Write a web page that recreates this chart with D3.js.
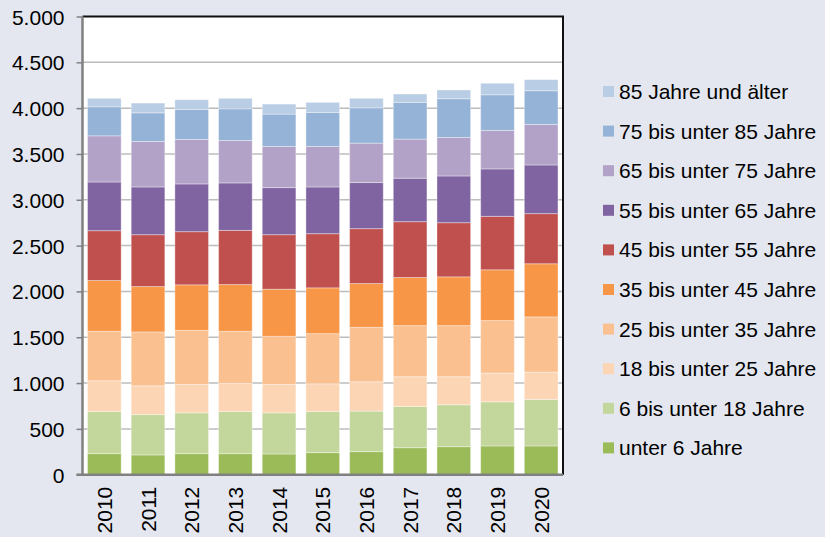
<!DOCTYPE html>
<meta charset="utf-8">
<style>
body { margin: 0; background: #e4e7ef; }
text { font-family: "Liberation Sans", Arial, sans-serif; fill: #000; }
</style>
<svg width="825" height="537"></svg>
<script src="https://d3js.org/d3.v7.min.js"></script>
<script>

var years = ["2010","2011","2012","2013","2014","2015","2016","2017","2018","2019","2020"];

// age groups, bottom to top
var groups = ["unter 6 Jahre","6 bis unter 18 Jahre","18 bis unter 25 Jahre","25 bis unter 35 Jahre",
  "35 bis unter 45 Jahre","45 bis unter 55 Jahre","55 bis unter 65 Jahre","65 bis unter 75 Jahre",
  "75 bis unter 85 Jahre","85 Jahre und älter"];

var colors = ["#9bbb59","#c3d69b","#fcd5b5","#fac090","#f79646","#c0504d","#8064a2","#b3a2c7","#95b3d7","#b9cde5"];

var unter6   = [230,216,230,230,226,241,252,295,306,314,314];
var a6_18    = [459,440,445,459,449,448,442,449,457,481,507];
var a18_25   = [336,314,310,307,310,303,320,325,306,314,299];
var a25_35   = [540,588,590,569,525,547,594,558,558,573,602];
var a35_45   = [554,495,497,510,514,500,478,525,532,554,580];
var a45_55   = [544,566,580,591,595,591,599,609,591,583,547];
var a55_65   = [531,521,521,518,514,510,503,474,510,518,531];
var a65_75   = [504,496,485,463,449,442,430,427,420,420,442];
var a75_85   = [317,313,328,346,353,371,386,401,423,389,368];
var a85plus  = [92,106,106,114,109,110,103,91,95,125,121];

var series = [unter6,a6_18,a18_25,a25_35,a35_45,a45_55,a55_65,a65_75,a75_85,a85plus];
var yTicks = [0,500,1000,1500,2000,2500,3000,3500,4000,4500,5000];

var svg = d3.select("svg");
var pLeft = 82.5, pRight = 563, pTop = 16.5, pBottom = 474.7;

var rows = years.map(function(y, i) {
  var r = {year: y};
  groups.forEach(function(g, k) { r[g] = series[k][i]; });
  return r;
});
var stacked = d3.stack().keys(groups)(rows);

var x = d3.scaleBand().domain(years).range([pLeft, pRight]).paddingInner(0.23).paddingOuter(0.115);
var y = d3.scaleLinear().domain([0, 5000]).range([pBottom, pTop]);

svg.append("rect")
    .attr("x", pLeft).attr("y", pTop)
    .attr("width", pRight - pLeft).attr("height", pBottom - pTop)
    .attr("fill", "#fff");

// grid
svg.append("g").selectAll("line")
    .data(yTicks.slice(1, -1))
    .enter().append("line")
    .attr("x1", pLeft).attr("x2", pRight)
    .attr("y1", function(d) { return y(d); })
    .attr("y2", function(d) { return y(d); })
    .attr("stroke", "#bcbcbc")
    .attr("stroke-width", 1.5);

svg.append("g").selectAll("g")
    .data(stacked)
    .enter().append("g")
    .attr("fill", function(d, i) { return colors[i]; })
  .selectAll("rect")
    .data(function(d) { return d; })
    .enter().append("rect")
    .attr("x", function(d) { return x(d.data.year); })
    .attr("width", x.bandwidth())
    .attr("y", function(d) { return y(d[1]); })
    .attr("height", function(d) { return y(d[0]) - y(d[1]); })
    .attr("stroke", "#fff")
    .attr("stroke-opacity", 0.35)
    .attr("stroke-width", 1);

// frame
svg.append("path")
    .attr("d", "M" + pLeft + "," + pTop + "H" + pRight + "V" + pBottom)
    .attr("fill", "none")
    .attr("stroke", "#111")
    .attr("stroke-width", 2);

var yAxis = svg.append("g")
    .attr("transform", "translate(" + pLeft + ",0)")
    .call(d3.axisLeft(y).tickValues(yTicks).tickSize(6).tickPadding(12)
      .tickFormat(function(d) { return d3.format(",")(d).replace(",", "."); }));
yAxis.select(".domain").attr("stroke", "#808080").attr("stroke-width", 2.5)
    .attr("d", "M0," + pTop + "V" + pBottom);
yAxis.selectAll(".tick line").attr("stroke", "#808080").attr("stroke-width", 1.5);
yAxis.selectAll("text").style("font-size", "21px").attr("dy", "0.36em");

var xAxis = svg.append("g")
    .attr("transform", "translate(0," + pBottom + ")")
    .call(d3.axisBottom(x).tickSize(0).tickPadding(0));
xAxis.select(".domain").attr("stroke", "#808080").attr("stroke-width", 2.5)
    .attr("d", "M" + (pLeft - 6) + ",0H" + pRight);
xAxis.selectAll("text")
    .style("font-size", "21px")
    .attr("text-anchor", "end")
    .attr("transform", "translate(0,12) rotate(-90)")
    .attr("x", 0).attr("y", 0).attr("dy", "0.36em");

// legend, top entry = oldest group
var legend = svg.append("g").selectAll("g")
    .data(groups.slice().reverse())
    .enter().append("g")
    .attr("transform", function(d, i) { return "translate(603," + (91.5 + i * 39.6) + ")"; });
legend.append("rect")
    .attr("x", 0).attr("y", -5.5)
    .attr("width", 11).attr("height", 11)
    .attr("fill", function(d) { return colors[groups.indexOf(d)]; });
legend.append("text")
    .attr("x", 16).attr("dy", "0.36em")
    .style("font-size", "21px")
    .text(function(d) { return d; });

</script>
